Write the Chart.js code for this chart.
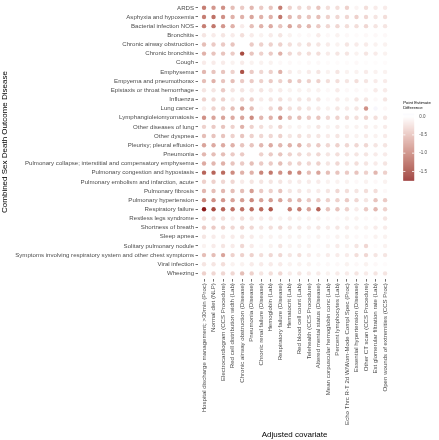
<!DOCTYPE html>
<html>
<head>
<meta charset="utf-8">
<script src="https://cdn.jsdelivr.net/npm/chart.js@4.4.1/dist/chart.umd.min.js"></script>
<style>
  html, body { margin: 0; padding: 0; background: #ffffff; }
  #wrap { position: absolute; left: 0; top: 0; width: 439px; height: 440px; }
</style>
</head>
<body>
<div id="wrap"><canvas id="c" width="439" height="440"></canvas></div>
<script>
// ---------------- DATA ----------------
const diseases = [
  "ARDS", "Asphyxia and hypoxemia", "Bacterial infection NOS", "Bronchitis",
  "Chronic airway obstruction", "Chronic bronchitis", "Cough", "Emphysema",
  "Empyema and pneumothorax", "Epistaxis or throat hemorrhage", "Influenza",
  "Lung cancer", "Lymphangioleiomyomatosis", "Other diseases of lung",
  "Other dyspnea", "Pleurisy; pleural effusion", "Pneumonia",
  "Pulmonary collapse; interstitial and compensatory emphysema",
  "Pulmonary congestion and hypostasis", "Pulmonary embolism and infarction, acute",
  "Pulmonary fibrosis", "Pulmonary hypertension", "Respiratory failure",
  "Restless legs syndrome", "Shortness of breath", "Sleep apnea",
  "Solitary pulmonary nodule",
  "Symptoms involving respiratory system and other chest symptoms",
  "Viral infection", "Wheezing"
];

const covariates = [
  "Hospital discharge management; >30min (Proc)",
  "Normal diet (NLP)",
  "Electrocardiogram (CCS Procedure)",
  "Red cell distribution width (Lab)",
  "Chronic airway obstruction (Disease)",
  "Pneumonia (Disease)",
  "Chronic renal failure (Disease)",
  "Hemoglobin (Lab)",
  "Respiratory failure (Disease)",
  "Hematocrit (Lab)",
  "Red blood cell count (Lab)",
  "Telehealth (CCS Procedure)",
  "Altered mental status (Disease)",
  "Mean corpuscular hemoglobin conc (Lab)",
  "Percent lymphocytes (Lab)",
  "Echo Thrc R-T 2d W/Wom-Mode Compl Spec (Proc)",
  "Essential hypertension (Disease)",
  "Other CT scan (CCS Procedure)",
  "Est glomerular filtration rate (Lab)",
  "Open wounds of extremities (CCS Proc)"
];

// point estimate difference, one row per disease, one column per covariate (null = not shown)
const pointEstimateDiff = [
  [-1.0,-0.8,-0.85,-0.5,-0.4,-0.55,-0.4,-0.45,-1.0,-0.35,-0.3,-0.3,-0.45,-0.25,-0.25,-0.35,-0.08,-0.25,-0.15,-0.15],
  [-1.0,-1.1,-0.85,-0.6,-0.6,-0.7,-0.6,-0.6,-1.05,-0.55,-0.5,-0.45,-0.5,-0.35,-0.3,-0.3,-0.35,-0.3,-0.2,-0.25],
  [-1.0,-1.05,-0.8,-0.6,-0.15,-0.5,-0.6,-0.65,-0.45,-0.7,-0.55,-0.55,-0.4,-0.3,-0.3,-0.25,-0.25,-0.3,-0.2,-0.2],
  [-0.2,-0.15,-0.2,-0.15,-0.25,-0.15,-0.1,-0.15,-0.2,-0.1,-0.05,-0.05,-0.15,-0.05,-0.1,-0.05,-0.03,-0.05,-0.05,-0.05],
  [-0.5,-0.4,-0.4,-0.45,null,-0.4,-0.35,-0.35,-0.35,-0.25,-0.2,-0.25,-0.2,-0.15,-0.1,-0.2,-0.15,-0.15,-0.1,-0.1],
  [-0.6,-0.45,-0.45,-0.4,-1.4,-0.45,-0.35,-0.4,-0.6,-0.3,-0.25,-0.25,-0.25,-0.15,-0.2,-0.2,-0.1,-0.2,-0.15,-0.1],
  [-0.15,-0.15,-0.15,-0.1,-0.15,-0.1,-0.1,-0.1,-0.05,-0.05,-0.03,-0.05,-0.05,-0.03,-0.03,-0.03,-0.05,-0.02,-0.02,-0.03],
  [-0.55,-0.45,-0.45,-0.35,-1.35,-0.4,-0.3,-0.35,-0.6,-0.15,-0.1,-0.15,-0.2,-0.1,-0.2,-0.1,-0.1,-0.15,-0.1,-0.1],
  [-0.5,-0.6,-0.45,-0.5,-0.4,-0.4,-0.35,-0.4,-0.35,-0.45,-0.4,-0.35,-0.35,-0.25,-0.25,-0.2,-0.25,-0.2,-0.15,-0.15],
  [-0.2,-0.2,-0.4,-0.2,-0.2,-0.15,-0.2,-0.15,-0.15,-0.1,-0.1,-0.1,-0.1,-0.05,-0.15,-0.05,-0.05,-0.05,-0.15,-0.15],
  [-0.35,-0.3,-0.35,-0.15,-0.3,-0.35,-0.15,-0.2,-0.25,-0.15,-0.2,-0.2,-0.2,-0.05,-0.15,-0.1,-0.2,-0.2,-0.05,-0.2],
  [-0.15,-0.35,-0.35,-0.5,-0.75,-0.5,-0.05,-0.3,-0.5,-0.25,-0.25,-0.2,-0.15,-0.1,-0.2,-0.15,-0.2,-0.85,0.08,-0.05],
  [-0.85,-0.7,-0.7,-0.65,-0.7,-0.9,-0.55,-0.6,-0.85,-0.5,-0.5,-0.4,-0.45,-0.3,-0.35,-0.3,-0.25,-0.35,-0.25,-0.2],
  [-0.35,-0.4,-0.45,-0.35,-0.6,-0.35,-0.25,-0.2,-0.35,-0.1,-0.1,-0.1,-0.2,-0.1,-0.15,-0.1,-0.1,-0.15,-0.1,-0.15],
  [-0.5,-0.45,-0.45,-0.35,-0.45,-0.35,-0.3,-0.3,-0.35,-0.2,-0.25,-0.2,-0.2,-0.15,-0.2,-0.15,-0.1,-0.15,-0.1,-0.15],
  [-0.7,-0.65,-0.65,-0.6,-0.45,-0.45,-0.55,-0.65,-0.55,-0.6,-0.6,-0.35,-0.4,-0.3,-0.35,-0.3,-0.3,-0.3,-0.2,-0.2],
  [-0.55,-0.5,-0.5,-0.4,-0.4,null,-0.35,-0.4,-0.45,-0.35,-0.3,-0.25,-0.3,-0.2,-0.25,-0.2,-0.2,-0.2,-0.15,-0.15],
  [-0.65,-0.55,-0.6,-0.45,-0.4,-0.5,-0.4,-0.4,-0.5,-0.35,-0.35,-0.3,-0.35,-0.2,-0.3,-0.2,-0.25,-0.2,-0.15,-0.2],
  [-1.2,-1.2,-1.15,-0.9,-0.6,-0.6,-0.95,-1.05,-0.85,-0.95,-0.9,-0.5,-0.7,-0.5,-0.45,-0.4,-0.45,-0.35,-0.55,-0.35],
  [-0.35,-0.35,-0.3,-0.3,-0.15,-0.2,-0.2,-0.2,-0.2,-0.15,-0.15,-0.15,-0.15,-0.1,-0.1,-0.1,-0.05,-0.1,-0.05,-0.1],
  [-0.55,-0.5,-0.55,-0.5,-0.5,-0.75,-0.4,-0.35,-0.45,-0.2,-0.2,-0.15,-0.15,-0.2,-0.3,-0.25,-0.2,-0.25,-0.25,-0.05],
  [-0.95,-0.85,-0.8,-0.7,-0.75,-0.9,-0.7,-0.75,-0.7,-0.55,-0.55,-0.4,-0.4,-0.35,-0.35,-0.4,-0.3,-0.2,-0.45,-0.4],
  [-1.75,-1.4,-1.2,-1.1,-1.1,-1.15,-1.15,-1.3,null,-1.0,-1.0,-0.7,-1.2,-0.45,-0.45,-0.35,-0.15,-0.4,-0.55,-0.35],
  [-0.25,-0.25,-0.25,-0.15,-0.25,-0.2,-0.15,-0.15,-0.1,-0.15,-0.1,-0.1,-0.1,-0.05,-0.05,-0.1,-0.1,-0.05,-0.05,-0.2],
  [-0.4,-0.4,-0.35,-0.3,-0.35,-0.3,-0.2,-0.25,-0.3,-0.2,-0.2,-0.15,-0.2,-0.15,-0.2,-0.15,-0.1,-0.1,-0.15,-0.15],
  [-0.2,-0.15,-0.15,-0.15,-0.2,-0.15,-0.1,-0.1,-0.1,-0.1,-0.1,-0.05,-0.1,-0.05,-0.1,-0.1,-0.05,-0.05,-0.1,-0.1],
  [-0.1,-0.15,-0.2,-0.15,-0.3,-0.15,-0.05,-0.1,-0.2,-0.1,-0.1,-0.1,-0.03,-0.1,-0.15,-0.1,-0.2,-0.3,-0.03,-0.1],
  [-0.5,-0.5,-0.7,-0.35,-0.35,-0.35,-0.25,-0.3,-0.3,-0.2,-0.25,-0.15,-0.1,-0.15,-0.15,-0.15,-0.25,-0.3,-0.2,-0.2],
  [-0.2,-0.2,-0.25,-0.1,-0.1,-0.15,-0.15,-0.15,-0.15,-0.1,-0.1,-0.1,-0.05,-0.05,-0.05,-0.1,-0.05,-0.1,-0.05,-0.03],
  [-0.35,-0.3,-0.3,-0.3,-0.5,-0.35,-0.2,-0.25,-0.3,-0.15,-0.2,-0.15,-0.15,-0.1,-0.15,-0.15,-0.2,-0.15,-0.2,-0.2]
];

const legendTicks = [0.0, -0.5, -1.0, -1.5];
const legendTickLabels = ["0.0", "-0.5", "-1.0", "-1.5"];
const legendTitle = ["Point Estimate", "Difference"];
const xTitle = "Adjusted covariate";
const yTitle = "Combined Sex Death Outcome Disease";

// ---------------- COLOUR SCALE (diverging, Lab interpolation) ----------------
const LOW = "#8B1A1A", MID = "#FFFFFF", HIGH = "#3B4CC0";
function hex2rgb(h){ return [1,3,5].map(i => parseInt(h.substr(i,2),16)); }
function lin(c){ c/=255; return c<=0.04045 ? c/12.92 : Math.pow((c+0.055)/1.055,2.4); }
function unlin(c){ c = c<=0.0031308 ? 12.92*c : 1.055*Math.pow(c,1/2.4)-0.055; return Math.max(0,Math.min(255,Math.round(c*255))); }
const WX=0.95047, WY=1, WZ=1.08883;
function rgb2lab(rgb){
  const [r,g,b] = rgb.map(lin);
  const X = (0.4124*r+0.3576*g+0.1805*b)/WX, Y=(0.2126*r+0.7152*g+0.0722*b)/WY, Z=(0.0193*r+0.1192*g+0.9505*b)/WZ;
  const f = t => t>0.008856 ? Math.cbrt(t) : 7.787*t+16/116;
  const fx=f(X), fy=f(Y), fz=f(Z);
  return [116*fy-16, 500*(fx-fy), 200*(fy-fz)];
}
function lab2rgb(lab){
  const [L,a,b]=lab; const fy=(L+16)/116, fx=fy+a/500, fz=fy-b/200;
  const g = t => t*t*t>0.008856 ? t*t*t : (t-16/116)/7.787;
  const X=g(fx)*WX, Y=g(fy)*WY, Z=g(fz)*WZ;
  const r= 3.2406*X-1.5372*Y-0.4986*Z, gg=-0.9689*X+1.8758*Y+0.0415*Z, bb=0.0557*X-0.2040*Y+1.0570*Z;
  return [unlin(r),unlin(gg),unlin(bb)];
}
const labLow=rgb2lab(hex2rgb(LOW)), labMid=rgb2lab(hex2rgb(MID)), labHigh=rgb2lab(hex2rgb(HIGH));
const allVals = pointEstimateDiff.flat().filter(v => v !== null);
const vMin = Math.min(...allVals), vMax = Math.max(...allVals);
const span = Math.max(Math.abs(vMin), Math.abs(vMax));
function colorFor(v){
  const t = Math.min(1, Math.abs(v)/span);
  const target = v < 0 ? labLow : labHigh;
  const lab = labMid.map((m,i) => m + (target[i]-m)*t);
  const c = lab2rgb(lab);
  return `rgb(${c[0]},${c[1]},${c[2]})`;
}

// ---------------- POINTS ----------------
const points = [];
pointEstimateDiff.forEach((row, r) => row.forEach((v, c) => {
  if (v !== null) points.push({ x: c, y: r, v: v });
}));

// ---------------- LEGEND PLUGIN ----------------
const colorbarPlugin = {
  id: 'colorbar',
  afterDraw(chart) {
    const ctx = chart.ctx, ca = chart.chartArea;
    const barL = ca.right + 12.4, barW = 11;
    const mid = (ca.top + ca.bottom) / 2;
    const barT = mid - 28.4, barH = 67;
    const yOf = v => barT + (vMax - v) / (vMax - vMin) * barH;
    ctx.save();
    for (let i = 0; i < barH; i++) {
      const v = vMax - (i + 0.5) / barH * (vMax - vMin);
      ctx.fillStyle = colorFor(v);
      ctx.fillRect(barL, barT + i, barW, 1.05);
    }
    ctx.strokeStyle = '#ffffff'; ctx.lineWidth = 0.8;
    ctx.fillStyle = '#4D4D4D';
    ctx.font = '4.5px "Liberation Sans", Arial, sans-serif';
    ctx.textBaseline = 'middle'; ctx.textAlign = 'left';
    legendTicks.forEach((t, i) => {
      const y = yOf(t);
      ctx.beginPath();
      ctx.moveTo(barL, y); ctx.lineTo(barL + barW/5, y);
      ctx.moveTo(barL + barW, y); ctx.lineTo(barL + barW - barW/5, y);
      ctx.stroke();
      ctx.fillText(legendTickLabels[i], barL + barW + 5, y);
    });
    ctx.fillStyle = '#000000';
    ctx.font = '4.3px "Liberation Sans", Arial, sans-serif';
    ctx.textBaseline = 'alphabetic';
    ctx.fillText(legendTitle[0], barL, barT - 9.2);
    ctx.fillText(legendTitle[1], barL, barT - 4.2);
    ctx.restore();
  }
};

// ---------------- CHART ----------------
const tickFont = { family: '"Liberation Sans", Arial, sans-serif', size: 6.1 };
const titleFont = { family: '"Liberation Sans", Arial, sans-serif', size: 8 };

new Chart(document.getElementById('c'), {
  type: 'scatter',
  data: {
    datasets: [{
      data: points,
      pointRadius: 2.2,
      pointHoverRadius: 2.2,
      borderWidth: 0,
      pointBorderWidth: 0,
      backgroundColor: ctx => ctx.raw ? colorFor(ctx.raw.v) : '#fff'
    }]
  },
  options: {
    responsive: false,
    animation: false,
    devicePixelRatio: 1,
    layout: { padding: { left: 0, right: 48.2, top: 0, bottom: 0 } },
    plugins: { legend: { display: false }, tooltip: { enabled: false } },
    scales: {
      x: {
        type: 'linear',
        min: -0.6, max: covariates.length - 1 + 0.6,
        afterBuildTicks: s => { s.ticks = covariates.map((_, i) => ({ value: i })); },
        afterFit: s => { s.height = 161.1; },
        ticks: {
          callback: v => covariates[v],
          autoSkip: false, minRotation: 90, maxRotation: 90,
          font: tickFont, color: '#4D4D4D', padding: 1.5
        },
        grid: { display: true, drawOnChartArea: false, drawTicks: true, tickLength: 2.75, color: '#333333', lineWidth: 0.7 },
        border: { display: false },
        title: { display: true, text: xTitle, font: titleFont, color: '#000000', padding: { top: 0, bottom: 0 } }
      },
      y: {
        type: 'linear',
        reverse: true,
        min: -0.29, max: diseases.length - 1 + 0.6,
        afterBuildTicks: s => { s.ticks = diseases.map((_, i) => ({ value: i })); },
        afterFit: s => { s.width = 198.3; },
        ticks: {
          callback: v => diseases[v],
          autoSkip: false, font: tickFont, color: '#4D4D4D', padding: 1.5
        },
        grid: { display: true, drawOnChartArea: false, drawTicks: true, tickLength: 2.75, color: '#333333', lineWidth: 0.7 },
        border: { display: false },
        title: { display: true, text: yTitle, font: titleFont, color: '#000000', padding: { top: 0, bottom: 0 } }
      }
    }
  },
  plugins: [colorbarPlugin]
});
</script>
</body>
</html>
